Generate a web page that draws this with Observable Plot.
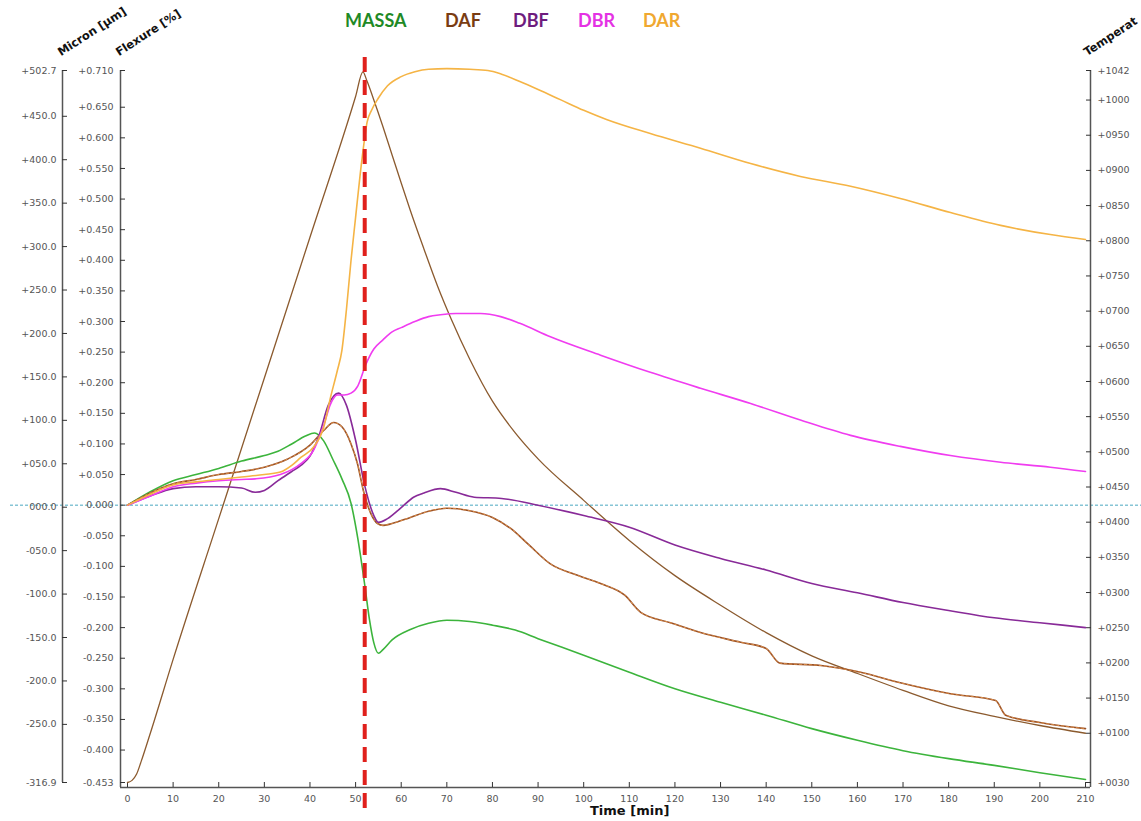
<!DOCTYPE html>
<html><head><meta charset="utf-8">
<script src="https://cdn.jsdelivr.net/npm/d3@7"></script>
<script src="https://cdn.jsdelivr.net/npm/@observablehq/plot@0.6"></script>
<style>
html,body{margin:0;padding:0;background:#fff;}
#wrap{position:relative;width:1141px;height:821px;overflow:hidden;}
.leg{position:absolute;top:9px;font-family:Lato,"Open Sans",sans-serif;font-weight:700;font-size:18px;}
.rot{position:absolute;font-family:"DejaVu Sans",sans-serif;font-weight:700;font-size:11.5px;line-height:12px;white-space:nowrap;transform-origin:0 100%;transform:rotate(-33deg);color:#111;}
#time{position:absolute;left:590px;top:803px;font-family:"DejaVu Sans",sans-serif;font-weight:700;font-size:13px;color:#111;}
</style></head>
<body><div id="wrap"></div>
<script>
// ---- data ----
const seriesNames = ["MASSA", "DAF", "DBF", "DBR", "DAR"];
const seriesColors = ["#3cb43c", "#9a5228", "#882a98", "#f03cf0", "#f5b445"];
const legendColors = ["#1f8a26", "#7a3c12", "#6e1c7e", "#e432e4", "#f0a830"];

const tMassa = [0,5,10,15,20,25,30,33,36,39,41,43,45,47,49,50.5,52,53,54,55,56,58,62,66,70,75,80,85,90,100,110,120,130,140,150,160,170,180,190,200,210];
const vMassa = [0,0.022,0.04,0.05,0.06,0.072,0.081,0.088,0.1,0.113,0.118,0.105,0.075,0.043,0.003,-0.055,-0.13,-0.185,-0.225,-0.242,-0.236,-0.22,-0.203,-0.193,-0.188,-0.19,-0.196,-0.204,-0.218,-0.245,-0.273,-0.3,-0.322,-0.343,-0.365,-0.384,-0.401,-0.414,-0.425,-0.437,-0.448];

const tDaf = [0,5,10,15,20,25,30,35,40,43,45.2,47,49,50.4,51.7,53.3,54.8,56,58,62,66,70,75,80,84,88,92.7,98,103.7,109,112.5,119,125.6,134.4,140,143,152,160.7,169.4,180.4,190.3,192.5,200,210];
const vDaf = [0,0.02,0.035,0.042,0.05,0.055,0.062,0.075,0.098,0.122,0.135,0.128,0.1,0.068,0.024,-0.013,-0.03,-0.033,-0.03,-0.02,-0.01,-0.005,-0.009,-0.02,-0.038,-0.065,-0.096,-0.113,-0.128,-0.147,-0.175,-0.192,-0.208,-0.224,-0.234,-0.258,-0.262,-0.273,-0.29,-0.308,-0.319,-0.343,-0.355,-0.365];

const tDbf = [0,5,10,15,20,25,28,30,33,36,38,40,42,44,46.3,48,50,52,54,55,57,60,62.7,65,68.6,72,76,82,90,100,110,120,130,140,150,160,170,180,190,200,210];
const vDbf = [0,0.015,0.027,0.03,0.03,0.028,0.021,0.024,0.04,0.055,0.065,0.08,0.114,0.163,0.183,0.163,0.106,0.032,-0.017,-0.028,-0.022,-0.004,0.013,0.02,0.027,0.021,0.013,0.011,0,-0.017,-0.036,-0.065,-0.087,-0.106,-0.128,-0.143,-0.159,-0.172,-0.184,-0.192,-0.2];

const tDbr = [0,5,10,15,20,25,28,33.5,36,38,40.8,43,44.5,46,47.5,49,50.5,52.2,54,56,58,60,63,66,68.6,72,77.4,81.8,86,92.7,103.7,114.6,125.6,136.6,147.5,158.5,169.4,180.4,191.4,202.3,210];
const vDbr = [0,0.015,0.03,0.036,0.04,0.042,0.043,0.05,0.058,0.068,0.09,0.13,0.165,0.18,0.18,0.183,0.195,0.229,0.255,0.27,0.283,0.29,0.3,0.308,0.311,0.313,0.313,0.308,0.297,0.275,0.245,0.217,0.191,0.166,0.139,0.114,0.096,0.081,0.07,0.062,0.055];

const tDar = [0,5,10,15,20,25,30,33.5,36,38,40.8,43,44.5,46,47,48,49,50,51,52,52.5,53.5,55,57,60,63,66,70,75,79,82,86,90,95,100,105,114.6,125.6,136.6,147.5,158.5,169.4,180.4,191.4,202.3,210];
const vDar = [0,0.018,0.033,0.038,0.042,0.046,0.05,0.054,0.065,0.078,0.095,0.127,0.176,0.22,0.253,0.32,0.40,0.47,0.54,0.60,0.625,0.645,0.665,0.685,0.7,0.708,0.712,0.713,0.712,0.71,0.704,0.692,0.679,0.662,0.645,0.63,0.607,0.583,0.558,0.537,0.521,0.501,0.478,0.457,0.442,0.434];

// temperature in °C
const tTemp = [0,1,2,3,5,10,20,30,40,50,51.6,52.5,54,56,58,60,62,65,68,71,75,80,85,90,100,110,120,130,140,150,160,170,180,190,200,210];
const vTemp = [30,33,42,60,100,205,405,605,805,1005,1040,1027,1000,962,922,882,843,788,735,688,632,572,527,490,431,374,324,282,243,210,185,161,139,124,111,100];

// axis ticks
const timeTicks = d3.range(0, 211, 10);
const flexTicks = [0.710,0.65,0.6,0.55,0.5,0.45,0.4,0.35,0.3,0.25,0.2,0.15,0.1,0.05,0,-0.05,-0.1,-0.15,-0.2,-0.25,-0.3,-0.35,-0.4,-0.453];
const micronTicks = [502.7,450,400,350,300,250,200,150,100,50,0,-50,-100,-150,-200,-250,-316.9];
const tempTicks = [1042,1000,950,900,850,800,750,700,650,600,550,500,450,400,350,300,250,200,150,100,30];
const markerTime = 52;

// ranges of the three vertical scales (share the same pixel span)
const flexDom = [-0.453, 0.710];
const micronDom = [-316.9, 502.7];
const tempDom = [30, 1042];
const lin = (dom) => (v) => flexDom[0] + (v - dom[0]) / (dom[1] - dom[0]) * (flexDom[1] - flexDom[0]);
const micronToFlex = lin(micronDom);
const tempToFlex = lin(tempDom);

// formats
const fmtFlex = v => (Math.abs(v) < 1e-9 ? "0.000" : (v > 0 ? "+" : "") + v.toFixed(3));
const fmtMicron = v => {
  if (Math.abs(v) < 1e-9) return "000.0";
  const s = Math.abs(v).toFixed(1).padStart(5, "0");
  return (v > 0 ? "+" : "-") + s;
};
const fmtTemp = v => "+" + String(v).padStart(4, "0");

// ---- build rows ----
const rows = [];
const addSeries = (name, ts, vs) => ts.forEach((t, i) => rows.push({name, t, f: vs[i]}));
addSeries("MASSA", tMassa, vMassa);
addSeries("DAF", tDaf, vDaf);
addSeries("DBF", tDbf, vDbf);
addSeries("DBR", tDbr, vDbr);
addSeries("DAR", tDar, vDar);
const dafRows = rows.filter(r => r.name === "DAF");
const tempRows = tTemp.map((t, i) => ({t, f: tempToFlex(vTemp[i])}));

const micronMap = new Map(micronTicks.map(m => [micronToFlex(m), fmtMicron(m)]));
const tempMap = new Map(tempTicks.map(m => [tempToFlex(m), fmtTemp(m)]));

const font = "DejaVu Sans, sans-serif";
const chart = Plot.plot({
  width: 1141, height: 821,
  marginLeft: 127, marginRight: 56, marginTop: 70, marginBottom: 39,
  style: {fontFamily: font, fontSize: "9.5px", color: "#555", background: "transparent"},
  x: {domain: [0, 210]},
  y: {domain: flexDom},
  color: {domain: seriesNames, range: seriesColors},
  marks: [
    // zero reference line
    Plot.ruleY([0], {stroke: "#4aa8c0", strokeWidth: 1, strokeDasharray: "3,2", insetLeft: -117, insetRight: -60}),
    // axis lines
    Plot.ruleX([0], {dx: -7, stroke: "#555", strokeWidth: 1.5, insetBottom: -5}),
    Plot.ruleX([0], {dx: -65, stroke: "#555", strokeWidth: 1.5}),
    Plot.ruleX([210], {dx: 5, stroke: "#555", strokeWidth: 1.5, insetBottom: -5}),
    Plot.ruleY([flexDom[0]], {dy: 5, stroke: "#555", strokeWidth: 1.5, insetLeft: -7, insetRight: -5}),
    // axes
    Plot.axisX({ticks: timeTicks, tickFormat: d => String(d), tickSize: 5, tickPadding: 8, label: null, stroke: "#333"}),
    Plot.axisY({anchor: "left", ticks: flexTicks, tickFormat: fmtFlex, tickSize: 5, tickPadding: 7, dx: -2, label: null, stroke: "#333"}),
    Plot.axisY({anchor: "left", ticks: [...micronMap.keys()], tickFormat: v => micronMap.get(v), tickSize: 5, tickPadding: 6, dx: -60, label: null, stroke: "#333"}),
    Plot.axisY({anchor: "right", ticks: [...tempMap.keys()], tickFormat: v => tempMap.get(v), tickSize: 5, tickPadding: 7, label: null, stroke: "#333"}),
    // temperature
    Plot.line(tempRows, {x: "t", y: "f", stroke: "#8b5a2e", strokeWidth: 1.3, curve: "monotone-x"}),
    // series
    Plot.line(rows, {x: "t", y: "f", z: "name", stroke: "name", strokeWidth: 1.6, curve: "monotone-x"}),
    Plot.line(dafRows, {x: "t", y: "f", stroke: "#f0a050", strokeWidth: 0.8, strokeDasharray: "2,3", curve: "monotone-x"}),
    // marker
    Plot.ruleX([markerTime], {stroke: "#e0201c", strokeWidth: 4, strokeDasharray: "15,8", insetTop: -13, insetBottom: -33})
  ]
});
const wrap = document.getElementById("wrap");
wrap.appendChild(chart);

// legend
const legX = [345, 445, 513, 578, 643];
seriesNames.forEach((n, i) => {
  const s = document.createElement("div");
  s.className = "leg"; s.textContent = n; s.style.left = legX[i] + "px"; s.style.color = legendColors[i];
  wrap.appendChild(s);
});
// rotated axis titles
[["Micron [µm]", 62, 46], ["Flexure [%]", 120, 46], ["Temperat", 1088, 46]].forEach(([txt, x, y]) => {
  const d = document.createElement("div");
  d.className = "rot"; d.textContent = txt; d.style.left = x + "px"; d.style.top = y + "px";
  wrap.appendChild(d);
});
const tl = document.createElement("div"); tl.id = "time"; tl.textContent = "Time [min]"; wrap.appendChild(tl);
</script></body></html>
